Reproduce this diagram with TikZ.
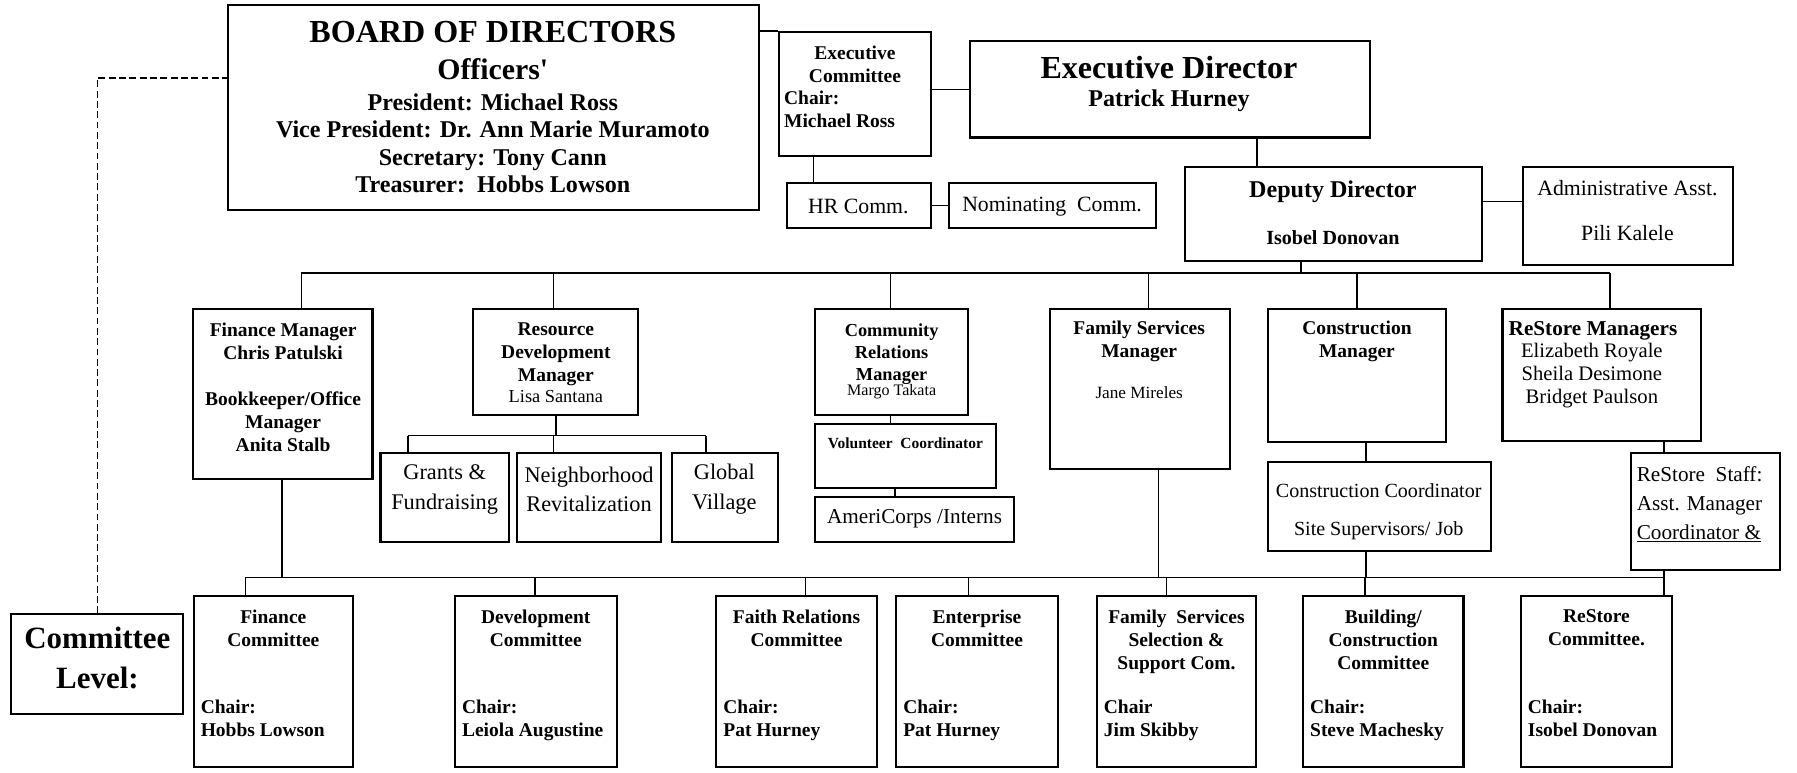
\documentclass[tikz,border=0pt]{standalone}
\usepackage{fontspec}
\setmainfont{Liberation Serif}
\tikzset{
  cadre/.style={draw, line width=1.8pt, inner sep=0pt},
  lien/.style={line width=1.3pt},
  gras/.style 2 args={font=\fontsize{#1}{#2}\selectfont\bfseries, align=center, inner sep=0pt},
  romain/.style 2 args={font=\fontsize{#1}{#2}\selectfont, align=center, inner sep=0pt},
}
% boite vide placee par ses coins
\newcommand{\cadre}[5]{%
  \node[cadre, minimum width={(#4)-(#2)}, minimum height={(#5)-(#3)}] (#1) at ({((#2)+(#4))/2},{((#3)+(#5))/2}) {};}
\begin{document}
\begin{tikzpicture}[x=1pt,y=-1pt]
  \useasboundingbox (0,0) rectangle (1568,674.4);
  % Conseil d'administration
  \cadre{board}{199}{4}{662}{183}
  \node[gras={28}{32}] (board-t) at (430,28) {BOARD OF DIRECTORS};
  \node[gras={26}{30}] (board-o) at (430,60) {Officers\textquotesingle};
  \node[gras={21}{24}] (board-n) at (430,125) {President: Michael Ross\\Vice President: Dr. Ann Marie Muramoto\\Secretary: Tony Cann\\Treasurer:~~Hobbs Lowson};

  \cadre{exec}{680}{28}{812}{136}
  \node[gras={17}{19.5}] (exec-t) at (746,56) {Executive\\Committee};
  \node[gras={17}{19.5}, align=left, anchor=west] (exec-c) at (684,95.5) {Chair:\\Michael Ross};

  \cadre{ed}{846}{36}{1195}{120}
  \node[gras={28}{32}] (ed-t) at (1020,59) {Executive Director};
  \node[gras={21}{24}] (ed-n) at (1020,88) {Patrick Hurney};

  \cadre{hr}{687}{160}{812}{199}
  \node[romain={19}{22}] (hr-t) at (749,180) {HR Comm.};
  \cadre{nom}{828}{160}{1009}{199}
  \node[romain={19}{22}] (nom-t) at (918,180) {Nominating~~Comm.};

  \cadre{dd}{1034}{146}{1293}{228}
  \node[gras={21}{24}] (dd-t) at (1163,167) {Deputy Director};
  \node[gras={17.5}{20}] (dd-n) at (1163,207) {Isobel Donovan};
  \cadre{adm}{1329}{146}{1512}{231}
  \node[romain={19}{22}] (adm-t) at (1420,164) {Administrative Asst.};
  \node[romain={19}{22}] (adm-n) at (1420,203) {Pili Kalele};

  % Liens du haut
  \draw[lien] (board.east |- exec.north) -- (exec.north west);
  \draw[lien] (exec.east |- ed.west) -- (ed.west);
  \coordinate (exec-b) at (710,136);
  \draw[lien] (exec-b) -- (exec-b |- hr.north);
  \draw[lien] (hr) -- (nom);
  \coordinate (ed-b) at (1097,120);
  \draw[lien] (ed-b) -- (ed-b |- dd.north);
  \coordinate (dd-d) at (1293,176);
  \draw[lien] (dd-d) -- (dd-d -| adm.west);

  % Responsables
  \cadre{fm}{168}{270}{325}{418}
  \node[gras={17}{20}] (fm-t) at (247,298) {Finance Manager\\Chris Patulski};
  \node[gras={17}{20}] (fm-b) at (247,368) {Bookkeeper/Office\\Manager\\Anita Stalb};
  \cadre{rdm}{413}{270}{557}{362}
  \node[gras={17}{20}] (rdm-t) at (485,309) {Resource\\Development\\Manager};
  \node[romain={16}{19}] (rdm-n) at (485,346) {Lisa Santana};
  \cadre{crm}{711}{270}{845}{362}
  \node[gras={16}{19.5}] (crm-t) at (778,309) {Community\\Relations\\Manager};
  \node[romain={14}{16}] (crm-n) at (778,342) {Margo Takata};
  \cadre{fsm}{916}{270}{1073}{409}
  \node[gras={17}{20}] (fsm-t) at (994,298) {Family Services\\Manager};
  \node[romain={15}{18}] (fsm-n) at (994,343) {Jane Mireles};
  \cadre{cm}{1106}{270}{1262}{386}
  \node[gras={17}{20}] (cm-t) at (1184,298) {Construction\\Manager};
  \cadre{rsm}{1311}{270}{1484}{385}
  \node[gras={18.5}{20}] (rsm-t) at (1390,289) {ReStore Managers};
  \node[romain={18}{20}] (rsm-n) at (1389,328) {Elizabeth Royale\\Sheila Desimone\\Bridget Paulson};

  \coordinate (bus-g) at (263,238);
  \coordinate (bus-d) at (1405,238);
  \draw[lien] (bus-g) -- (bus-d);
  \coordinate (dd-b) at (1135,228);
  \draw[lien] (dd-b) -- (dd-b |- bus-g);
  \foreach \nom/\x in {fm/263, rdm/483, crm/777, fsm/1002, cm/1184, rsm/1405}
  {
    \coordinate (haut-\nom) at (\x,238);
    \draw[lien] (haut-\nom) -- (haut-\nom |- \nom.north);
  }

  % Equipes
  \cadre{gf}{332}{395}{444}{473}
  \node[romain={19.5}{26}] (gf-t) at (388,427) {Grants \&\\Fundraising};
  \cadre{nr}{451}{395}{577}{473}
  \node[romain={19.5}{26}] (nr-t) at (514,427) {Neighborhood\\Revitalization};
  \cadre{gv}{586}{395}{679}{473}
  \node[romain={19.5}{26}] (gv-t) at (632,427) {Global\\Village};
  \coordinate (sb-g) at (356,380);
  \coordinate (sb-d) at (616,380);
  \draw[lien] (rdm.south) -- (rdm.south |- sb-g);
  \draw[lien] (sb-g) -- (sb-d);
  \foreach \nom/\x in {gf/356, nr/483, gv/616}
  {
    \coordinate (sb-\nom) at (\x,380);
    \draw[lien] (sb-\nom) -- (sb-\nom |- \nom.north);
  }

  \cadre{vc}{711}{370}{869}{426}
  \node[gras={13.5}{16}] (vc-t) at (790,387) {Volunteer~~Coordinator};
  \cadre{ac}{711}{434}{885}{473}
  \node[romain={18.5}{22}] (ac-t) at (798,453) {AmeriCorps /Interns};
  \coordinate (crm-b) at (777,362);
  \draw[lien] (crm-b) -- (crm-b |- vc.north);
  \coordinate (vc-b) at (781,426);
  \draw[lien] (vc-b) -- (vc-b |- ac.north);

  \cadre{cc}{1106}{403}{1301}{481}
  \node[romain={17.5}{20}] (cc-t) at (1203,428) {Construction Coordinator};
  \node[romain={17.5}{20}] (cc-n) at (1203,463) {Site Supervisors/ Job};
  \coordinate (cm-b) at (1192,386);
  \draw[lien] (cm-b) -- (cm-b |- cc.north);

  \cadre{rss}{1423}{395}{1553}{497}
  \node[romain={18.5}{25}, align=left, anchor=west] (rss-t) at (1428,440) {ReStore~~Staff:\\Asst. Manager\\\underline{Coordinator \&}};
  \coordinate (rsm-b) at (1452,385);
  \draw[lien] (rsm-b) -- (rsm-b |- rss.north);

  % Comites
  \coordinate (bb-g) at (214,504);
  \coordinate (bb-d) at (1452,504);
  \draw[lien] (bb-g) -- (bb-d);
  \foreach \nom/\x in {fm/246, fsm/1011, cc/1192, rss/1452}
  {
    \coordinate (mont-\nom) at (\x,504);
    \draw[lien] (mont-\nom) -- (mont-\nom |- \nom.south);
  }
  \foreach \nom/\xa/\xb/\xc/\titre/\chef in {
    fc/169/308/214/{Finance\\Committee}/{Chair:\\Hobbs Lowson},
    dc/397/538/467/{Development\\Committee}/{Chair:\\Leiola Augustine},
    frc/625/765/703/{Faith Relations\\Committee}/{Chair:\\Pat Hurney},
    ec/782/923/845/{Enterprise\\Committee}/{Chair:\\Pat Hurney},
    fsc/957/1096/1018/{Family~~Services\\Selection \&\\Support Com.}/{Chair\\Jim Skibby},
    bcc/1137/1277/1191/{Building/\\Construction\\Committee}/{Chair:\\Steve Machesky},
    rsc/1327/1459/1452/{ReStore\\Committee.}/{Chair:\\Isobel Donovan}}
  {
    \cadre{\nom}{\xa}{520}{\xb}{669}
    \node[gras={17}{20}, anchor=north] (\nom-t) at ({(\xa+\xb)/2},532) {\titre};
    \node[gras={17}{20}, align=left, anchor=north west] (\nom-c) at (\xa+6,611) {\chef};
    \coordinate (bas-\nom) at (\xc,504);
    \draw[lien] (bas-\nom) -- (bas-\nom |- \nom.north);
  }

  \cadre{cl}{10}{536}{160}{623}
  \node[gras={27}{35}] (cl-t) at (85,574) {Committee\\Level:};
  \coordinate (bd-g) at (199,68);
  \draw[lien, dash pattern=on 6pt off 3pt] (cl.north) |- (bd-g);

\end{tikzpicture}
\end{document}
